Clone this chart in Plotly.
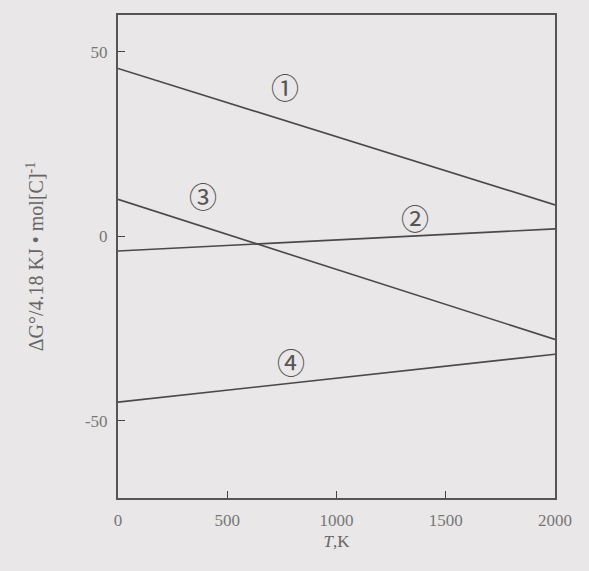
import plotly.graph_objects as go

temps = [0, 2000]
line1 = [45.5, 8.5]
line2 = [-4, 2]
line3 = [10, -28]
line4 = [-45, -32]
series = [line1, line2, line3, line4]

label_texts = ["①", "②", "③", "④"]
label_x = [765, 1360, 390, 790]
label_y = [40.5, 5, 11, -34]

x_ticks = [0, 500, 1000, 1500, 2000]
y_ticks = [-50, 0, 50]
y_tick_text = ["-50", "0", "50"]

font_family = "Liberation Serif, DejaVu Serif, serif"
ink = "#454545"
bg = "#e9e7e7"

fig = go.Figure()
for ys in series:
    fig.add_trace(go.Scatter(x=temps, y=ys, mode="lines",
                             line=dict(color="#4a4a4a", width=1.6),
                             showlegend=False, hoverinfo="skip"))

for t, x, y in zip(label_texts, label_x, label_y):
    fig.add_annotation(x=x, y=y, text=t, showarrow=False,
                       font=dict(family="Noto Sans CJK SC, DejaVu Sans", size=28, color="#555"))

fig.update_layout(
    width=589, height=571,
    margin=dict(l=118, r=34, t=15, b=73),
    paper_bgcolor=bg,
    plot_bgcolor=bg,
    font=dict(family=font_family, color=ink, size=16),
    showlegend=False,
)
fig.update_xaxes(range=[0, 2000], tickvals=x_ticks, ticks="inside", ticklen=7,
                 tickcolor=ink, showline=True, linecolor="#555", linewidth=2,
                 mirror=True, showgrid=False, zeroline=False, ticklabelstandoff=6,
                 title=dict(text="<i>T</i>,K", font=dict(size=17, color="#666"), standoff=6),
                 tickfont=dict(size=17, color="#777"))
fig.update_yaxes(range=[-71, 60], tickvals=y_ticks, ticktext=y_tick_text,
                 ticks="inside", ticklen=7,
                 tickcolor=ink, showline=True, linecolor="#555", linewidth=2,
                 mirror=True, showgrid=False, zeroline=False, ticklabelstandoff=5,
                 title=dict(text="ΔG°/4.18 KJ • mol[C]<sup>-1</sup>", font=dict(size=20, color="#666"), standoff=36),
                 tickfont=dict(size=17, color="#777"))

fig.write_html("out.html", config={"displayModeBar": False},
               post_script="document.body.style.margin='0';document.body.style.background='%s';" % bg)
